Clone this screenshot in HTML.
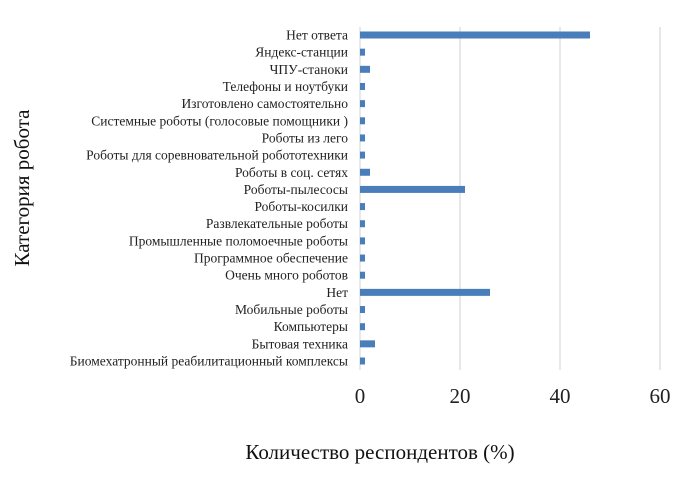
<!DOCTYPE html>
<html><head><meta charset="utf-8"><style>
html,body{margin:0;padding:0;background:#fff;}
svg{display:block;font-family:"Liberation Serif",serif;}
</style></head><body>
<svg id="chart" width="700" height="479" viewBox="0 0 700 479">
<g id="grid"></g>
<g id="bars"></g>
<g id="ylabels"></g>
<g id="xticks"></g>
<text x="380" y="459" font-size="21" text-anchor="middle" fill="#111">Количество респондентов (%)</text>
<text transform="translate(29,188) rotate(-90)" font-size="21" text-anchor="middle" fill="#111">Категория робота</text>
</svg>
<script>
const categories=["Нет ответа","Яндекс-станции","ЧПУ-станоки","Телефоны и ноутбуки","Изготовлено самостоятельно","Системные роботы (голосовые помощники )","Роботы из лего","Роботы для соревновательной робототехники","Роботы в соц. сетях ","Роботы-пылесосы","Роботы-косилки","Развлекательные роботы","Промышленные поломоечные роботы","Программное обеспечение","Очень много роботов","Нет","Мобильные роботы","Компьютеры","Бытовая техника ","Биомехатронный реабилитационный комплексы"];
const values=[46,1,2,1,1,1,1,1,2,21,1,1,1,1,1,26,1,1,3,1];
const tickValues=[0,20,40,60];
const NS="http://www.w3.org/2000/svg";
const x0=360,x1=660,xmax=60,yTop=35,yBot=361,gTop=27,gBot=370;
function xs(v){return x0+(v/xmax)*(x1-x0);}
function ys(i){return yTop+i*(yBot-yTop)/(categories.length-1);}
const grid=document.getElementById('grid'),bars=document.getElementById('bars'),yl=document.getElementById('ylabels'),xt=document.getElementById('xticks');
tickValues.forEach(t=>{
  const l=document.createElementNS(NS,'line');
  
  
  l.setAttribute('x1',xs(t));l.setAttribute('x2',xs(t));l.setAttribute('y1',gTop);l.setAttribute('y2',gBot);
  l.setAttribute('stroke','#d9d9d9');l.setAttribute('stroke-width','1.2');
  grid.appendChild(l);
  const tx=document.createElementNS(NS,'text');
  
  
  tx.setAttribute('x',xs(t));tx.setAttribute('y',403);tx.setAttribute('font-size','21');tx.setAttribute('text-anchor','middle');tx.setAttribute('fill','#222');
  tx.textContent=t;xt.appendChild(tx);
});
categories.forEach((c,i)=>{
  const r=document.createElementNS(NS,'rect');
  
  
  r.setAttribute('x',xs(0));r.setAttribute('y',ys(i)-3.5);r.setAttribute('width',xs(values[i])-xs(0));r.setAttribute('height',7);
  r.setAttribute('fill','#4a7ebb');
  bars.appendChild(r);
  const t=document.createElementNS(NS,'text');
  
  
  t.setAttribute('x',348);t.setAttribute('y',ys(i)+4.5);t.setAttribute('font-size','13.5');t.setAttribute('text-anchor','end');t.setAttribute('fill','#222');
  t.textContent=c;yl.appendChild(t);
});
</script>
</body></html>
